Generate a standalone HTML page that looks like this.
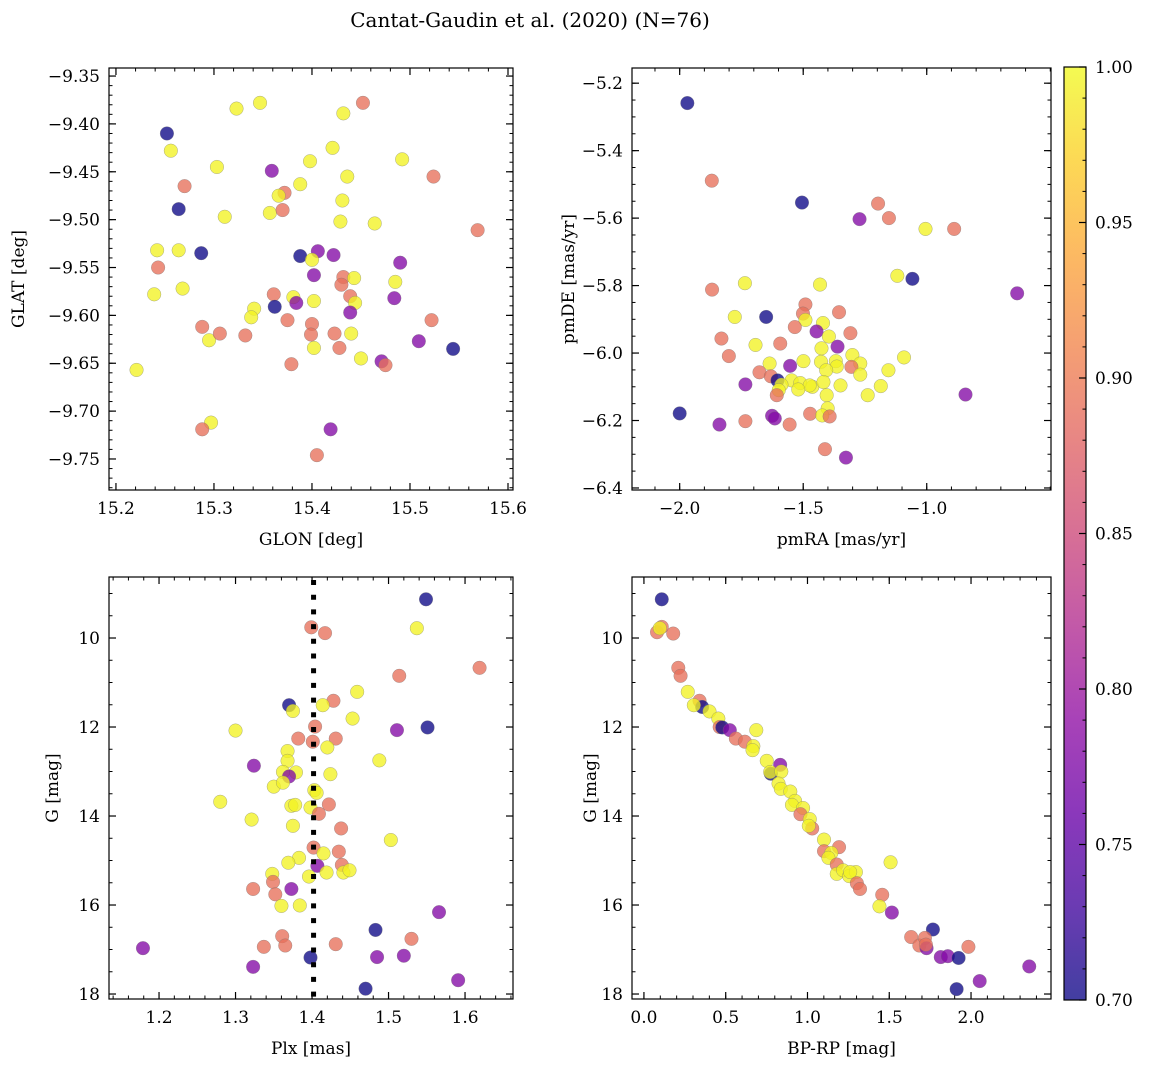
<!DOCTYPE html>
<html><head><meta charset="utf-8">
<style>
html,body{margin:0;padding:0;background:#fff;}
svg{display:block;font-family:"DejaVu Serif","Liberation Serif",serif;}
</style></head>
<body>
<svg id="fig" width="1149" height="1067" viewBox="0 0 1149 1067" xmlns="http://www.w3.org/2000/svg">
<text x="530" y="27" font-size="20" text-anchor="middle" fill="#000">Cantat-Gaudin et al. (2020) (N=76)</text>
</svg>
<script>
// ---------- Panel 1: GLON vs GLAT ----------
const p1Glon=[15.252,15.256,15.323,15.347,15.452,15.432,15.270,15.264,15.303,15.359,15.398,15.421,15.492,15.524,15.436,15.388,15.372,15.366,15.431,15.311,15.357,15.370,15.429,15.464,15.569,15.242,15.264,15.287,15.243,15.388,15.406,15.422,15.400,15.490,15.402,15.432,15.443,15.430,15.485,15.239,15.268,15.361,15.381,15.384,15.402,15.439,15.444,15.439,15.484,15.362,15.341,15.338,15.375,15.400,15.522,15.288,15.295,15.306,15.332,15.399,15.423,15.440,15.402,15.428,15.509,15.544,15.450,15.471,15.475,15.379,15.221,15.297,15.288,15.419,15.405];
const p1Glat=[-9.410,-9.428,-9.384,-9.378,-9.378,-9.389,-9.465,-9.489,-9.445,-9.449,-9.439,-9.425,-9.437,-9.455,-9.455,-9.463,-9.472,-9.475,-9.480,-9.497,-9.493,-9.490,-9.502,-9.504,-9.511,-9.532,-9.532,-9.535,-9.550,-9.538,-9.533,-9.537,-9.542,-9.545,-9.558,-9.560,-9.561,-9.568,-9.565,-9.578,-9.572,-9.578,-9.581,-9.587,-9.585,-9.580,-9.587,-9.597,-9.582,-9.591,-9.593,-9.602,-9.605,-9.609,-9.605,-9.612,-9.626,-9.619,-9.621,-9.620,-9.619,-9.619,-9.634,-9.634,-9.627,-9.635,-9.645,-9.648,-9.652,-9.651,-9.657,-9.712,-9.719,-9.719,-9.746];
const p1Prob=[0.70,0.995,0.995,0.995,0.89,0.995,0.89,0.70,0.995,0.78,0.995,0.995,0.995,0.89,0.995,0.995,0.89,0.995,0.995,0.995,0.995,0.89,0.995,0.995,0.89,0.995,0.995,0.70,0.89,0.70,0.78,0.78,0.995,0.78,0.78,0.89,0.995,0.89,0.995,0.995,0.995,0.89,0.995,0.78,0.995,0.89,0.995,0.78,0.78,0.70,0.995,0.995,0.89,0.89,0.89,0.89,0.995,0.89,0.89,0.89,0.89,0.995,0.995,0.89,0.78,0.70,0.995,0.78,0.89,0.89,0.995,0.995,0.89,0.78,0.89];
const p1XTicks=[15.2,15.3,15.4,15.5,15.6];
const p1YTicks=[-9.35,-9.40,-9.45,-9.50,-9.55,-9.60,-9.65,-9.70,-9.75];

// ---------- Panel 2: pmRA vs pmDE ----------
const p2PmRA=[-1.969,-1.870,-1.505,-1.272,-1.197,-1.153,-1.005,-0.889,-1.119,-1.058,-0.634,-1.869,-1.736,-1.432,-1.777,-1.650,-1.491,-1.501,-1.491,-1.355,-1.420,-1.534,-1.446,-1.396,-1.309,-1.831,-1.693,-1.593,-1.426,-1.361,-1.801,-1.636,-1.499,-1.428,-1.368,-1.301,-1.269,-1.092,-1.553,-1.364,-1.407,-1.305,-1.269,-1.155,-1.677,-1.631,-1.604,-1.547,-1.512,-1.588,-1.463,-1.474,-1.418,-1.349,-1.186,-1.734,-1.599,-1.520,-1.607,-1.405,-1.239,-0.843,-2.000,-1.472,-1.401,-1.423,-1.393,-1.626,-1.615,-1.839,-1.734,-1.555,-1.412,-1.327];
const p2PmDE=[-5.259,-5.489,-5.554,-5.603,-5.557,-5.600,-5.632,-5.632,-5.771,-5.780,-5.823,-5.812,-5.793,-5.797,-5.893,-5.893,-5.856,-5.883,-5.902,-5.879,-5.911,-5.923,-5.936,-5.951,-5.941,-5.957,-5.976,-5.972,-5.986,-5.981,-6.009,-6.031,-6.024,-6.026,-6.024,-6.006,-6.031,-6.013,-6.038,-6.040,-6.051,-6.041,-6.064,-6.051,-6.057,-6.069,-6.081,-6.081,-6.089,-6.094,-6.100,-6.096,-6.086,-6.096,-6.098,-6.093,-6.110,-6.108,-6.125,-6.125,-6.125,-6.123,-6.179,-6.180,-6.164,-6.185,-6.188,-6.186,-6.194,-6.212,-6.202,-6.212,-6.285,-6.310];
const p2Prob=[0.70,0.89,0.70,0.78,0.89,0.89,0.995,0.89,0.995,0.70,0.78,0.89,0.995,0.995,0.995,0.70,0.89,0.89,0.995,0.89,0.995,0.89,0.78,0.995,0.89,0.89,0.995,0.89,0.995,0.78,0.89,0.995,0.995,0.995,0.995,0.995,0.995,0.995,0.78,0.995,0.995,0.89,0.995,0.995,0.89,0.89,0.70,0.995,0.995,0.995,0.995,0.995,0.995,0.995,0.995,0.78,0.995,0.995,0.89,0.995,0.995,0.78,0.70,0.89,0.995,0.995,0.89,0.78,0.78,0.78,0.89,0.89,0.89,0.78];
const p2XTicks=[-2.0,-1.5,-1.0];
const p2YTicks=[-5.2,-5.4,-5.6,-5.8,-6.0,-6.2,-6.4];

// ---------- Panel 3: Plx vs G ----------
const p3Plx=[1.549,1.537,1.399,1.417,1.619,1.514,1.459,1.428,1.414,1.370,1.375,1.453,1.404,1.300,1.511,1.551,1.382,1.401,1.431,1.420,1.368,1.368,1.488,1.324,1.379,1.362,1.370,1.424,1.350,1.362,1.403,1.406,1.280,1.373,1.378,1.398,1.422,1.409,1.321,1.375,1.438,1.503,1.402,1.415,1.435,1.383,1.369,1.407,1.439,1.419,1.441,1.449,1.396,1.348,1.349,1.373,1.323,1.352,1.360,1.384,1.566,1.483,1.361,1.530,1.179,1.337,1.365,1.431,1.398,1.485,1.520,1.323,1.591,1.470];
const p3G=[9.13,9.78,9.76,9.89,10.67,10.85,11.21,11.41,11.51,11.51,11.64,11.81,11.99,12.08,12.07,12.01,12.26,12.33,12.26,12.46,12.54,12.76,12.75,12.87,13.02,13.01,13.11,13.06,13.34,13.25,13.42,13.48,13.68,13.77,13.75,13.81,13.74,13.95,14.08,14.22,14.28,14.54,14.71,14.84,14.80,14.94,15.05,15.12,15.10,15.27,15.27,15.22,15.36,15.30,15.48,15.64,15.64,15.76,16.02,16.01,16.16,16.56,16.70,16.76,16.97,16.94,16.91,16.88,17.18,17.17,17.14,17.39,17.69,17.88];
const p3Prob=[0.70,0.995,0.89,0.89,0.89,0.89,0.995,0.89,0.995,0.70,0.995,0.995,0.89,0.995,0.78,0.70,0.89,0.89,0.89,0.995,0.995,0.995,0.995,0.78,0.995,0.995,0.78,0.995,0.995,0.995,0.995,0.995,0.995,0.995,0.995,0.995,0.89,0.89,0.995,0.995,0.89,0.995,0.89,0.995,0.89,0.995,0.995,0.78,0.89,0.995,0.995,0.995,0.995,0.995,0.89,0.78,0.89,0.89,0.995,0.995,0.78,0.70,0.89,0.89,0.78,0.89,0.89,0.89,0.70,0.78,0.78,0.78,0.78,0.70];
const p3XTicks=[1.2,1.3,1.4,1.5,1.6];
const p3YTicks=[10,12,14,16,18];
const p3RefPlx=[1.402];

// ---------- Panel 4: BP-RP vs G ----------
const p4BpRp=[0.109,0.080,0.109,0.097,0.179,0.210,0.224,0.268,0.340,0.356,0.305,0.401,0.455,0.463,0.479,0.525,0.562,0.617,0.687,0.669,0.664,0.751,0.833,0.776,0.772,0.840,0.823,0.837,0.895,0.924,0.905,0.973,0.957,1.014,1.029,1.008,1.101,1.193,1.101,1.146,1.128,1.508,1.179,1.179,1.218,1.255,1.296,1.261,1.302,1.321,1.457,1.440,1.516,1.767,1.634,1.684,1.718,1.728,1.724,1.815,1.858,1.924,1.984,2.356,2.053,1.912];
const p4G=[9.13,9.87,9.75,9.78,9.90,10.67,10.85,11.21,11.41,11.55,11.51,11.65,11.81,12.00,12.01,12.07,12.26,12.33,12.07,12.43,12.52,12.76,12.85,13.05,13.01,13.00,13.27,13.39,13.45,13.66,13.75,13.82,13.96,14.07,14.28,14.22,14.53,14.70,14.79,14.83,14.94,15.04,15.09,15.30,15.22,15.35,15.26,15.26,15.51,15.64,15.77,16.03,16.17,16.55,16.72,16.91,16.74,16.97,16.89,17.17,17.15,17.19,16.94,17.38,17.71,17.89];
const p4Prob=[0.70,0.89,0.89,0.995,0.89,0.89,0.89,0.995,0.89,0.70,0.995,0.995,0.995,0.89,0.70,0.78,0.89,0.89,0.995,0.995,0.995,0.995,0.78,0.70,0.995,0.995,0.995,0.995,0.995,0.995,0.995,0.995,0.89,0.995,0.89,0.995,0.995,0.89,0.89,0.995,0.995,0.995,0.89,0.995,0.995,0.995,0.995,0.995,0.89,0.89,0.89,0.995,0.78,0.70,0.89,0.89,0.89,0.78,0.89,0.78,0.78,0.70,0.89,0.78,0.78,0.70];
const p4XTicks=[0.0,0.5,1.0,1.5,2.0];
const p4YTicks=[10,12,14,16,18];

// ---------- Colorbar ----------
const cbTicks=[0.70,0.75,0.80,0.85,0.90,0.95,1.00];
const cbMin=0.70, cbMax=1.00;

const NS="http://www.w3.org/2000/svg";
const svg=document.getElementById('fig');
const plasma=["#0d0887","#41049d","#6a00a8","#8f0da4","#b12a90","#cc4778","#e16462","#f2844b","#fca636","#fcce25","#f0f921"];
function hex2rgb(h){return [parseInt(h.substr(1,2),16),parseInt(h.substr(3,2),16),parseInt(h.substr(5,2),16)];}
function cmap(v){
  let t=(v-cbMin)/(cbMax-cbMin);t=Math.max(0,Math.min(1,t));
  const f=t*10,i=Math.min(9,Math.floor(f)),u=f-i;
  const a=hex2rgb(plasma[i]),b=hex2rgb(plasma[i+1]);
  return "rgb("+a.map((c,k)=>Math.round(c+(b[k]-c)*u)).join(",")+")";
}
function mk(tag,attrs,parent){const e=document.createElementNS(NS,tag);for(const k in attrs)e.setAttribute(k,attrs[k]);(parent||svg).appendChild(e);return e;}
function fmt(v,d){const s=Math.abs(v).toFixed(d);return (v<-1e-9?"\u2212":"")+s;}
function scale(d0,d1,p0,p1){return v=>p0+(v-d0)/(d1-d0)*(p1-p0);}

function panel(name,box,xd,yd,xs,ys,ps,xt,yt,xdec,ydec,xminor,yminor,xlabel,ylabel,xlabX,ylabX){
  const g=mk('g',{});
  
  
  const X=scale(xd[0],xd[1],box.l,box.r),Y=scale(yd[0],yd[1],box.b,box.t);
  const pts=mk('g',{},g);
  
  
  for(let i=0;i<xs.length;i++){
    const c=mk('circle',{cx:X(xs[i]),cy:Y(ys[i]),r:6.8,fill:cmap(ps[i]),'fill-opacity':0.78,stroke:'#777','stroke-width':0.5,'stroke-opacity':0.6},pts);
    
    
  }
  const fr=mk('rect',{x:box.l,y:box.t,width:box.r-box.l,height:box.b-box.t,fill:'none',stroke:'#000','stroke-width':1.2},g);
  
  
  const lo=Math.min(xd[0],xd[1]),hi=Math.max(xd[0],xd[1]);
  for(let v=Math.ceil(lo/xminor-1e-6)*xminor;v<=hi+1e-9;v+=xminor){
    const x=X(v);mk('line',{x1:x,x2:x,y1:box.b,y2:box.b-3.5,stroke:'#000','stroke-width':1},g);mk('line',{x1:x,x2:x,y1:box.t,y2:box.t+3.5,stroke:'#000','stroke-width':1},g);
  }
  const ylo=Math.min(yd[0],yd[1]),yhi=Math.max(yd[0],yd[1]);
  for(let v=Math.ceil(ylo/yminor-1e-6)*yminor;v<=yhi+1e-9;v+=yminor){
    const y=Y(v);mk('line',{x1:box.l,x2:box.l+3.5,y1:y,y2:y,stroke:'#000','stroke-width':1},g);mk('line',{x1:box.r,x2:box.r-3.5,y1:y,y2:y,stroke:'#000','stroke-width':1},g);
  }
  for(const v of xt){
    const x=X(v);
    mk('line',{x1:x,x2:x,y1:box.b,y2:box.b-7,stroke:'#000','stroke-width':1.2},g);
    mk('line',{x1:x,x2:x,y1:box.t,y2:box.t+7,stroke:'#000','stroke-width':1.2},g);
    const t=mk('text',{x:x,y:box.b+24,'font-size':17,'text-anchor':'middle'},g);
    t.textContent=fmt(v,xdec);
    
    
  }
  for(const v of yt){
    const y=Y(v);
    mk('line',{x1:box.l,x2:box.l+7,y1:y,y2:y,stroke:'#000','stroke-width':1.2},g);
    mk('line',{x1:box.r,x2:box.r-7,y1:y,y2:y,stroke:'#000','stroke-width':1.2},g);
    const t=mk('text',{x:box.l-9,y:y+6,'font-size':17,'text-anchor':'end'},g);
    t.textContent=fmt(v,ydec);
    
    
  }
  const xl=mk('text',{x:(box.l+box.r)/2,y:box.b+55,'font-size':17,'text-anchor':'middle'},g);
  xl.textContent=xlabel;
  
  
  const cy=(box.t+box.b)/2;
  const yl=mk('text',{x:ylabX,y:cy,'font-size':17,'text-anchor':'middle',transform:'rotate(-90 '+ylabX+' '+cy+')'},g);
  yl.textContent=ylabel;
  
  
  return {X,Y,g,box};
}

const tl={l:109,r:513,t:68,b:490}, tr={l:632,r:1051,t:68,b:490};
const bl={l:109,r:513,t:577,b:999}, br={l:632,r:1051,t:577,b:999};

panel('glon-glat-panel',tl,[15.1929,15.6051],[-9.7824,-9.3416],p1Glon,p1Glat,p1Prob,p1XTicks,p1YTicks,1,2,0.02,0.01,'GLON [deg]','GLAT [deg]',0,24);
panel('proper-motion-panel',tr,[-2.193,-0.497],[-6.406,-5.155],p2PmRA,p2PmDE,p2Prob,p2XTicks,p2YTicks,1,1,0.1,0.05,'pmRA [mas/yr]','pmDE [mas/yr]',0,574);
const P3=panel('parallax-mag-panel',bl,[1.1346,1.6627],[18.112,8.629],p3Plx,p3G,p3Prob,p3XTicks,p3YTicks,1,0,0.02,0.5,'Plx [mas]','G [mag]',0,58);
panel('cmd-panel',br,[-0.073,2.489],[18.112,8.629],p4BpRp,p4G,p4Prob,p4XTicks,p4YTicks,1,0,0.1,0.5,'BP-RP [mag]','G [mag]',0,596);

for(const v of p3RefPlx){
  const ln=mk('line',{x1:P3.X(v),x2:P3.X(v),y1:bl.t+3,y2:bl.b,stroke:'#000','stroke-width':5,'stroke-dasharray':'5 9.7'});
  
  
}

const defs=mk('defs',{});
const lg=mk('linearGradient',{id:'cbg',x1:0,y1:1,x2:0,y2:0},defs);
plasma.forEach((c,i)=>mk('stop',{offset:i/10,'stop-color':c},lg));
const cb={l:1064,r:1086,t:67,b:1000};
const cbg=mk('g',{});


mk('rect',{x:cb.l,y:cb.t,width:cb.r-cb.l,height:cb.b-cb.t,fill:'url(#cbg)','fill-opacity':0.78},cbg);
mk('rect',{x:cb.l,y:cb.t,width:cb.r-cb.l,height:cb.b-cb.t,fill:'none',stroke:'#000','stroke-width':1.2},cbg);
const CY=scale(cbMin,cbMax,cb.b,cb.t);
for(let v=cbMin;v<=cbMax+1e-9;v+=0.01){const y=CY(v);mk('line',{x1:cb.r,x2:cb.r-3.5,y1:y,y2:y,stroke:'#000','stroke-width':1},cbg);}
for(const v of cbTicks){
  const y=CY(v);
  mk('line',{x1:cb.r,x2:cb.r-7,y1:y,y2:y,stroke:'#000','stroke-width':1.2},cbg);
  const t=mk('text',{x:cb.r+9,y:y+6,'font-size':17},cbg);
  t.textContent=v.toFixed(2);
  
  
}
</script>
</body></html>
